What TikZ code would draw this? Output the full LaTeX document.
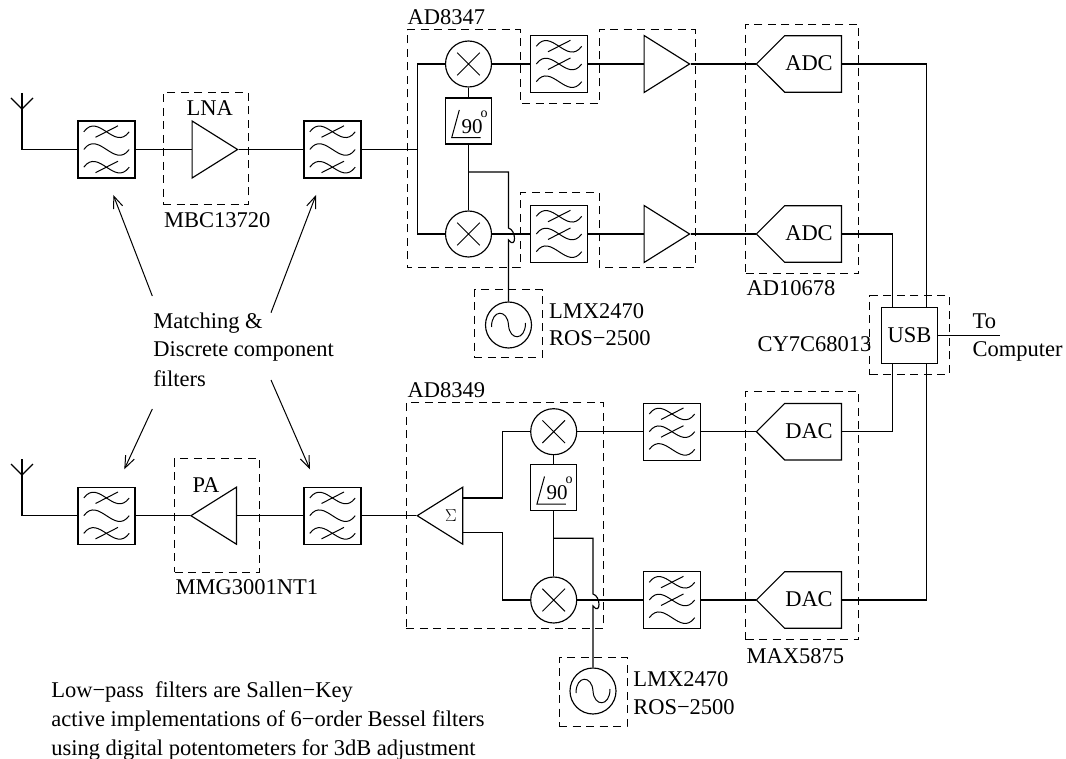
\documentclass[tikz,border=0pt]{standalone}
\usepackage{fontspec}
\setmainfont{Liberation Serif}
\usepackage{tikz}
\usetikzlibrary{arrows.meta,calc,shapes.geometric,shapes.symbols}

\begin{document}
\begin{tikzpicture}[
  x=1pt, y=-1pt,
  font=\fontsize{22.5}{29}\selectfont,
  line width=1.15pt,
  wire/.style={line width=1.15pt},
  chip/.style={draw, line width=1pt, dash pattern=on 8pt off 5.5pt},
  chipbox/.style={chip, rectangle, inner sep=0pt},
  lbl/.style={anchor=base west, inner sep=0pt},
  lpf/.style={draw, rectangle, minimum size=57pt, inner sep=0pt,
    path picture={
      \begin{scope}[shift={(path picture bounding box.center)}, line width=1pt]
      \foreach \r in {-17.7,0,17.7}
        \draw (-22.7,\r) .. controls (-8,\r-20) and (8,\r+20) .. (22.7,\r);
      \foreach \r in {#1}
        \draw (-11,\r+5.5) -- (11.5,\r-6);
      \end{scope}
    }},
  amp/.style={draw, isosceles triangle, isosceles triangle apex angle=64,
    isosceles triangle stretches, minimum width=57pt, minimum height=45.5pt,
    inner sep=0pt, anchor=lower side},
  mixer/.style={draw, circle, minimum size=46pt, inner sep=0pt,
    path picture={
      \draw[shift={(path picture bounding box.center)}, line width=1pt]
        (-11.3,-11.3) -- (11.3,11.3) (-11.3,11.3) -- (11.3,-11.3);
    }},
  osc/.style={draw, circle, minimum size=46pt, inner sep=0pt,
    path picture={
      \draw[shift={(path picture bounding box.center)}, line width=1pt]
        (-17,2) .. controls (-17,-16) and (-1,-16) .. (0,0)
        .. controls (1,16) and (17,16) .. (17,-2);
    }},
  phase/.style={draw, rectangle, minimum size=46pt, inner sep=0pt,
    path picture={
      \begin{scope}[shift={(path picture bounding box.center)}, line width=1pt]
      \draw (-9.2,-11) -- (-16.8,16.7) -- (12.2,16.7);
      \node[font=\fontsize{21}{21}\selectfont, inner sep=0pt] at (3.5,5.5) {90};
      \node[font=\fontsize{14}{14}\selectfont, inner sep=0pt] at (15.5,-7) {o};
      \end{scope}
    }},
  conv/.style={draw, signal, signal to=west, signal pointer angle=90,
    minimum width=85pt, minimum height=56.5pt, inner sep=0pt, anchor=east},
  arr/.style={-{Straight Barb[length=12pt,width=9.5pt]}, line width=1pt}
]
\useasboundingbox (0,0) rectangle (1066,759);

% top row
\coordinate (ant1) at (22,149.5);
\coordinate (ant1top) at (22,93);
\node[lpf={-17.7,17.7}] (f1) at (106.5,149.5) {};
\node[amp] (lna) at (191.5,149.5) {};
\node[lpf={-17.7,17.7}] (f2) at (332.5,149.5) {};
\coordinate (bus1) at (417.5,149.5);
\node[mixer] (mx1) at (468.5,64) {};
\node[mixer] (mx2) at (468.5,234) {};
\node[phase] (ph1) at (468.5,121) {};
\coordinate (br1) at (468.5,172);
\coordinate (j1) at (508.5,228);
\coordinate (j2) at (508.5,240);
\node[lpf={-17.7,0}] (f3) at (559,64) {};
\node[lpf={-17.7,0}] (f4) at (559,234) {};
\node[amp] (a1) at (643.5,64) {};
\node[amp] (a2) at (643.5,234) {};
\node[osc] (osc1) at (508.5,325) {};
\node[conv] (adc1) at (842,64) {};
\node[conv] (adc2) at (842,234) {};
\node[inner sep=0pt, anchor=base] (adc1t) at (809,71) {ADC};
\node[inner sep=0pt, anchor=base] (adc2t) at (809,240.5) {ADC};

% usb
\node[draw, rectangle, minimum size=56pt, inner sep=0pt] (usb) at (909.5,335.5) {USB};
\coordinate (u1) at (892.7,307.5);
\coordinate (u2) at (926.7,307.5);
\coordinate (u3) at (892.7,363.5);
\coordinate (u4) at (926.7,363.5);
\coordinate (toend) at (1000,335.5);

% bottom row
\coordinate (ant2) at (22,515.7);
\coordinate (ant2top) at (22,459);
\node[lpf={-17.7,17.7}] (f5) at (106.5,515.7) {};
\node[amp, shape border rotate=180] (pa) at (237,515.7) {};
\node[lpf={-17.7,17.7}] (f6) at (332.5,515.7) {};
\node[amp, shape border rotate=180] (sum) at (463.3,515.7) {};
\node[inner sep=0pt, font=\fontsize{18}{18}\selectfont] (sumt) at (451,516) {$\Sigma$};
\coordinate (t1) at (502.7,498);
\coordinate (t2) at (502.7,532.7);
\node[mixer] (mx3) at (553.7,431.7) {};
\node[mixer] (mx4) at (553.7,600) {};
\node[phase] (ph2) at (553.7,487.5) {};
\coordinate (br2) at (553.7,538.3);
\coordinate (j3) at (593,594);
\coordinate (j4) at (593,606);
\node[lpf={-17.7,0}] (f7) at (672,431.7) {};
\node[lpf={-17.7,0}] (f8) at (672,600) {};
\node[osc] (osc2) at (593,691) {};
\node[conv] (dac1) at (842,431.7) {};
\node[conv] (dac2) at (842,600) {};
\node[inner sep=0pt, anchor=base] (dac1t) at (809,438) {DAC};
\node[inner sep=0pt, anchor=base] (dac2t) at (809,606.7) {DAC};

% antennas
\draw[wire] (ant1top) -- (ant1) -- (f1);
\draw[wire] ($(ant1top)+(-11,5)$) -- ($(ant1top)+(0,16)$) -- ($(ant1top)+(11,5)$);
\draw[wire] (ant2top) -- (ant2) -- (f5);
\draw[wire] ($(ant2top)+(-11,5)$) -- ($(ant2top)+(0,16)$) -- ($(ant2top)+(11,5)$);

% receive path
\draw[wire] (f1) -- (lna.lower side);
\draw[wire] (lna.apex) -- (f2);
\draw[wire] (f2) -- (bus1);
\draw[wire] (mx1) -| (bus1) |- (mx2);
\draw[wire] (mx1) -- (ph1);
\draw[wire] (ph1) -- (mx2);
\draw[wire] (br1) -| (j1) .. controls +(8,2) and +(8,10) .. (j2) -- (osc1);
\draw[wire] (mx1) -- (f3);
\draw[wire] (mx2) -- (f4);
\draw[wire] (f3) -- (a1.lower side);
\draw[wire] (f4) -- (a2.lower side);
\draw[wire] (a1.apex) -- (adc1.west);
\draw[wire] (a2.apex) -- (adc2.west);
\draw[wire] (adc1.east) -| (u2);
\draw[wire] (adc2.east) -| (u1);

% usb side
\draw[wire] (usb) -- (toend);
\draw[wire] (dac1.east) -| (u3);
\draw[wire] (dac2.east) -| (u4);

% transmit path
\draw[wire] (f5) -- (pa.apex);
\draw[wire] (pa.lower side) -- (f6);
\draw[wire] (f6) -- (sum.apex);
\draw[wire] (t1 -| sum.lower side) -- (t1) |- (mx3);
\draw[wire] (t2 -| sum.lower side) -- (t2) |- (mx4);
\draw[wire] (mx3) -- (ph2);
\draw[wire] (ph2) -- (mx4);
\draw[wire] (br2) -| (j3) .. controls +(8,2) and +(8,10) .. (j4) -- (osc2);
\draw[wire] (mx3) -- (f7);
\draw[wire] (mx4) -- (f8);
\draw[wire] (f7) -- (dac1.west);
\draw[wire] (f8) -- (dac2.west);

% dashed boxes
\node[chipbox, minimum width=85pt, minimum height=112pt] (lnabox) at (205.5,149) {};
\node[chipbox, minimum width=85pt, minimum height=113.5pt] (pabox) at (217,515.7) {};
\draw[chip] (407,30) -- (520,30) -- (520,104) -- (599,104) -- (599,30) -- (695,30)
  -- (695,268) -- (599,268) -- (599,193) -- (520,193) -- (520,268) -- (407,268) -- cycle;
\node[chipbox, minimum width=113.3pt, minimum height=249pt] (adcbox) at (802.3,148.8) {};
\node[chipbox, minimum width=113.3pt, minimum height=248.3pt] (dacbox) at (802.3,515.8) {};
\node[chipbox, minimum width=68pt, minimum height=67.7pt] (oscbox1) at (508.3,323.8) {};
\node[chipbox, minimum width=68pt, minimum height=69pt] (oscbox2) at (593,691.5) {};
\node[chipbox, minimum width=79.3pt, minimum height=78.7pt] (usbbox) at (909.6,335.3) {};
\node[chipbox, minimum width=197.5pt, minimum height=225.5pt] (modbox) at (505.2,515.7) {};

% labels
\node[lbl] (lnat) at (186,116) {LNA};
\node[lbl] (lnal) at (163.5,228) {MBC13720};
\node[lbl] (pat) at (192,492.7) {PA};
\node[lbl] (pal) at (175,594) {MMG3001NT1};
\node[lbl] (rxl) at (407,25) {AD8347};
\node[lbl] (txl) at (407,397) {AD8349};
\node[lbl] (adcl) at (746,296) {AD10678};
\node[lbl] (dacl) at (746,663) {MAX5875};
\node[lbl] (osc1a) at (548.5,319) {LMX2470};
\node[lbl] (osc1b) at (548.5,346) {ROS−2500};
\node[lbl] (osc2a) at (632.7,686.7) {LMX2470};
\node[lbl] (osc2b) at (632.7,714) {ROS−2500};
\node[lbl] (usbl) at (757,352) {CY7C68013};
\node[lbl] (to1) at (972,329) {To};
\node[lbl] (to2) at (972,357) {Computer};
\node[lbl] (m1) at (152.7,328.3) {Matching \&};
\node[lbl] (m2) at (152.7,356.7) {Discrete component};
\node[lbl] (m3) at (152.7,386) {filters};
\node[lbl] (n1) at (50.7,697) {Low−pass\ \ filters are Sallen−Key};
\node[lbl] (n2) at (50.7,726) {active implementations of 6−order Bessel filters};
\node[lbl] (n3) at (50.7,755) {using digital potentometers for 3dB adjustment};

% arrows
\coordinate (a1s) at (152.3,296);
\coordinate (a1e) at (113.3,195);
\coordinate (a2s) at (271,312.7);
\coordinate (a2e) at (316,195);
\coordinate (a3s) at (152.3,409);
\coordinate (a3e) at (124.3,469.3);
\coordinate (a4s) at (271,380);
\coordinate (a4e) at (310,469.3);
\draw[arr] (a1s) -- (a1e);
\draw[arr] (a2s) -- (a2e);
\draw[arr] (a3s) -- (a3e);
\draw[arr] (a4s) -- (a4e);
\end{tikzpicture}
\end{document}
